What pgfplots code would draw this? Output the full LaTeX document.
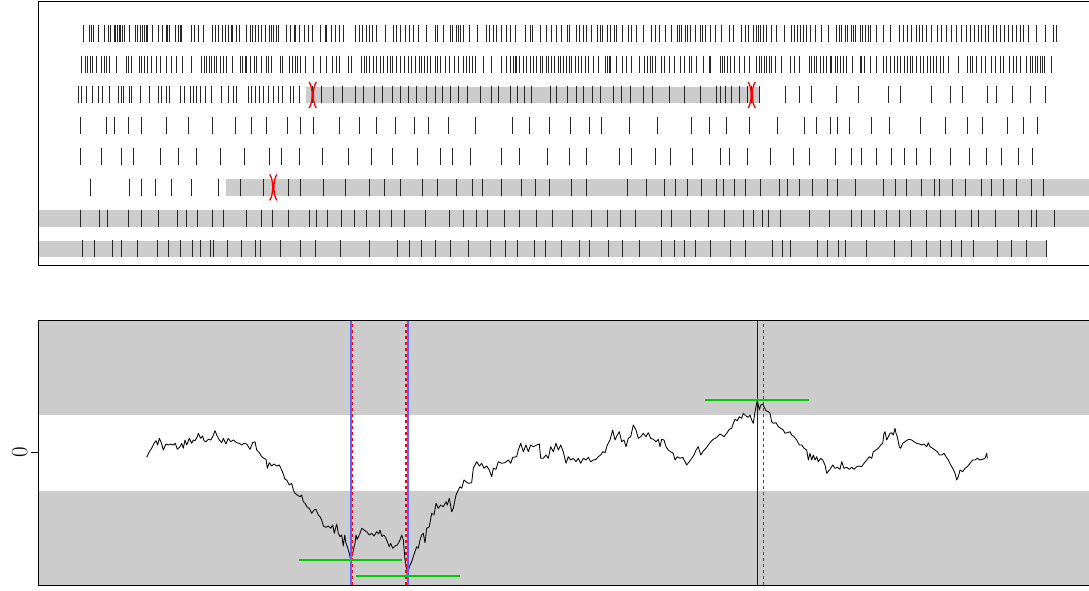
\documentclass[border=0pt]{standalone}
\usepackage{pgfplots}
\pgfplotsset{compat=1.18}

\definecolor{bandgray}{RGB}{204,204,204}
\definecolor{seggreen}{RGB}{0,205,0}
\definecolor{softblue}{RGB}{96,96,255}

% event marker: two facing arcs ")(" meeting at the centre
\pgfdeclareplotmark{hourglass}{%
  \pgfpathmoveto{\pgfqpoint{-0.28\pgfplotmarksize}{\pgfplotmarksize}}%
  \pgfpathcurveto{\pgfqpoint{0.03\pgfplotmarksize}{0.6\pgfplotmarksize}}%
                 {\pgfqpoint{0.03\pgfplotmarksize}{-0.6\pgfplotmarksize}}%
                 {\pgfqpoint{-0.28\pgfplotmarksize}{-\pgfplotmarksize}}%
  \pgfpathmoveto{\pgfqpoint{0.28\pgfplotmarksize}{\pgfplotmarksize}}%
  \pgfpathcurveto{\pgfqpoint{-0.03\pgfplotmarksize}{0.6\pgfplotmarksize}}%
                 {\pgfqpoint{-0.03\pgfplotmarksize}{-0.6\pgfplotmarksize}}%
                 {\pgfqpoint{0.28\pgfplotmarksize}{-\pgfplotmarksize}}%
  \pgfusepathqstroke
}

\pgfplotsset{
  spikes/.style={only marks, mark=|, mark size=8.5pt, black!85,
    mark options={line width=0.9pt}},
  band/.style={fill=bandgray, draw=none, forget plot},
  vline/.style={line width=2pt, softblue},
  vdash/.style={line width=1.2pt, red, dash pattern=on 3.5pt off 2.5pt},
}

\begin{document}
\begin{tikzpicture}
% ---------------- spike raster ----------------
\begin{axis}[
  at={(38pt,325pt)}, anchor=south west, scale only axis,
  width=1072pt, height=264pt,
  xmin=38, xmax=1110, ymin=-0.05, ymax=8.52, y dir=reverse,
  xtick=\empty, ytick=\empty,
  axis line style={line width=0.9pt, black},
  axis on top, clip=true,
]
% shaded intervals
\addplot[band] coordinates {(306,2.729) (760,2.729) (760,3.271) (306,3.271)} -- cycle;
\addplot[band] coordinates {(226,5.729) (1110,5.729) (1110,6.271) (226,6.271)} -- cycle;
\addplot[band] coordinates {(38,6.729) (1110,6.729) (1110,7.271) (38,7.271)} -- cycle;
\addplot[band] coordinates {(38,7.729) (1046,7.729) (1046,8.271) (38,8.271)} -- cycle;

% unit 1
\addplot[spikes] coordinates {
(83.3,1) (89.3,1) (91.3,1) (93.3,1) (98,1) (104.7,1) (108,1) (110,1) (114,1) (115.7,1)
(117.3,1) (119,1) (120.3,1) (122.3,1) (124.3,1) (129.3,1) (135,1) (137.7,1) (140,1) (142.3,1)
(144,1) (146.3,1) (147.7,1) (152.7,1) (158.3,1) (162,1) (166,1) (167.7,1) (169,1) (175,1)
(178.3,1) (180.3,1) (181.7,1) (191,1) (194.7,1) (198.3,1) (203.3,1) (212,1) (215.7,1) (218.3,1)
(222,1) (225.3,1) (228,1) (231,1) (232.3,1) (236,1) (239.3,1) (246.3,1) (250,1) (252,1)
(255.7,1) (258.7,1) (261.7,1) (265.7,1) (269.3,1) (271.7,1) (273.7,1) (276.7,1) (278.7,1) (286.7,1)
(290.3,1) (294,1) (295.7,1) (299.3,1) (304.3,1) (308.3,1) (312.7,1) (320,1) (325,1) (326.7,1)
(331.3,1) (335,1) (339.3,1) (343.3,1) (355,1) (359,1) (362.7,1) (366,1) (369.3,1) (372.7,1)
(376.7,1) (385,1) (393.3,1) (396.7,1) (400,1) (405,1) (409,1) (413.3,1) (418.3,1) (426.7,1)
(435,1) (437.3,1) (443.3,1) (450,1) (452.7,1) (456,1) (458.7,1) (460.7,1) (463.3,1) (469.3,1)
(477.7,1) (486.7,1) (489.3,1) (493.3,1) (496.7,1) (501.7,1) (506,1) (510,1) (515,1) (525,1)
(530,1) (532.3,1) (540,1) (546.7,1) (551,1) (556.7,1) (561,1) (567.3,1) (569.3,1) (576,1)
(579.3,1) (583.3,1) (586,1) (591.7,1) (597.3,1) (600,1) (602.7,1) (607.3,1) (610.7,1) (614,1)
(616.7,1) (622.7,1) (628.3,1) (631.7,1) (636,1) (643.3,1) (651,1) (655,1) (659,1) (665,1)
(671.7,1) (677.3,1) (679.3,1) (681.7,1) (685,1) (687.3,1) (690,1) (695,1) (700,1) (702.7,1)
(705,1) (710,1) (715,1) (721.7,1) (729.3,1) (733.3,1) (741.7,1) (745,1) (748.3,1) (753.3,1)
(756.7,1) (758.3,1) (760.7,1) (763.3,1) (766.7,1) (771.7,1) (776.7,1) (784,1) (791.7,1) (794.3,1)
(797.3,1) (800.7,1) (803.3,1) (806.7,1) (810,1) (815,1) (821.7,1) (828.3,1) (836.7,1) (839.3,1)
(841.7,1) (845,1) (847.7,1) (851,1) (853.3,1) (855.7,1) (860,1) (862.3,1) (865,1) (868.3,1)
(870.7,1) (876,1) (883.3,1) (890,1) (899.3,1) (903.3,1) (907.7,1) (911.7,1) (916,1) (919,1)
(922.7,1) (926.7,1) (931.7,1) (937.3,1) (941.7,1) (946.7,1) (951.7,1) (956.7,1) (961.7,1) (966.7,1)
(970.7,1) (974.3,1) (978.3,1) (981.7,1) (985,1) (988.3,1) (993,1) (996.7,1) (1000,1) (1004,1)
(1008,1) (1012,1) (1016,1) (1020,1) (1023,1) (1028,1) (1036.7,1) (1045,1) (1053.3,1) (1056,1)
};
% unit 2
\addplot[spikes] coordinates {
(81.7,2) (85,2) (87.3,2) (90,2) (92.7,2) (96.7,2) (101.7,2) (104,2) (106.7,2) (109.3,2)
(116.7,2) (126,2) (128.3,2) (131.7,2) (139,2) (141.7,2) (144,2) (147.3,2) (151.7,2) (156,2)
(160.7,2) (166.7,2) (171.7,2) (176.7,2) (182.7,2) (191.7,2) (201.7,2) (204,2) (206.7,2) (209.3,2)
(211.7,2) (214.3,2) (216.7,2) (220,2) (223.3,2) (226.7,2) (232.7,2) (240,2) (242.7,2) (245,2)
(246.7,2) (250,2) (254,2) (256.7,2) (261.7,2) (266,2) (268.3,2) (271,2) (280,2) (282,2)
(289.3,2) (292.7,2) (295,2) (297.7,2) (300.7,2) (305.3,2) (313.3,2) (320,2) (326.7,2) (332.7,2)
(336,2) (339.3,2) (348.3,2) (351.7,2) (361.7,2) (364,2) (366,2) (369.3,2) (373.3,2) (376.7,2)
(380,2) (383.3,2) (387.3,2) (390,2) (392.7,2) (396.7,2) (400.7,2) (404,2) (408.3,2) (411.7,2)
(415,2) (419.3,2) (421.7,2) (424.3,2) (427.3,2) (430.7,2) (435,2) (437.3,2) (440,2) (445,2)
(449.3,2) (454,2) (458.3,2) (463.3,2) (466.7,2) (469.3,2) (472.7,2) (475,2) (483.3,2) (491.7,2)
(501.7,2) (506.7,2) (510,2) (513.3,2) (515,2) (516.7,2) (519.3,2) (523.3,2) (526.7,2) (530.7,2)
(533.3,2) (536.7,2) (540.7,2) (542.7,2) (546,2) (548.3,2) (551.7,2) (554,2) (558.3,2) (560.7,2)
(563.3,2) (566.7,2) (569.3,2) (571.7,2) (575,2) (578.3,2) (581.7,2) (585,2) (588.3,2) (593.3,2)
(598.3,2) (605,2) (607.3,2) (609.3,2) (610.7,2) (616.7,2) (622.3,2) (626,2) (631.7,2) (639.3,2)
(644,2) (647.3,2) (650,2) (652.7,2) (655.7,2) (661,2) (664,2) (669,2) (674,2) (680.7,2)
(684,2) (689.3,2) (691.7,2) (696.7,2) (703.3,2) (709,2) (710.7,2) (720.7,2) (722.7,2) (724,2)
(727.3,2) (730.7,2) (734,2) (739,2) (744,2) (749.3,2) (756,2) (759,2) (761.7,2) (764,2)
(766.7,2) (769,2) (771.7,2) (775,2) (781.7,2) (790,2) (794,2) (799.3,2) (809,2) (811,2)
(814,2) (816.7,2) (820,2) (823.3,2) (826.7,2) (830,2) (831.7,2) (835.7,2) (837.3,2) (840.7,2)
(843.3,2) (846.7,2) (852.7,2) (860,2) (861.7,2) (864,2) (870,2) (876,2) (883.3,2) (886.7,2)
(890.7,2) (894.3,2) (897.3,2) (900,2) (904,2) (907.3,2) (910,2) (912.7,2) (916.7,2) (920,2)
(923.3,2) (927.3,2) (930,2) (933.3,2) (936.7,2) (940,2) (943.3,2) (948.3,2) (958.3,2) (967.3,2)
(970,2) (972.7,2) (976,2) (981.7,2) (985,2) (991.7,2) (995,2) (1000,2) (1003.3,2) (1009.3,2)
(1013.3,2) (1016.7,2) (1020,2) (1026.7,2) (1030,2) (1032.7,2) (1035,2) (1037.3,2) (1040,2) (1042.7,2)
(1044,2) (1051.7,2)
};
% unit 3
\addplot[spikes] coordinates {
(78.3,3) (81.7,3) (86.7,3) (92.7,3) (98.3,3) (102.7,3) (109,3) (118.3,3) (121.7,3) (123.3,3)
(129.3,3) (131.7,3) (140,3) (149,3) (158.3,3) (161.7,3) (166,3) (169.3,3) (180,3) (184.3,3)
(190,3) (193.3,3) (196.7,3) (200,3) (205,3) (211.7,3) (221.7,3) (228.3,3) (233.3,3) (236.7,3)
(248.3,3) (251.7,3) (255,3) (259.3,3) (263.3,3) (268.3,3) (273.3,3) (278.3,3) (282.7,3) (290,3)
(293.3,3) (299.3,3) (312.7,3) (321.7,3) (333.3,3) (342.7,3) (355,3) (363.3,3) (374.3,3) (382.7,3)
(392.7,3) (400.7,3) (408.3,3) (416.5,3) (426,3) (435,3) (442.7,3) (450.7,3) (458.3,3) (467,3)
(480,3) (491.7,3) (498,3) (510,3) (517,3) (524,3) (531.7,3) (550.7,3) (556.3,3) (567,3)
(576,3) (583.3,3) (592,3) (600,3) (613.3,3) (621.7,3) (630,3) (643,3) (652.7,3) (669,3)
(684.3,3) (700,3) (716,3) (720.3,3) (725.5,3) (731.7,3) (739.3,3) (747.3,3) (751.7,3) (759.3,3)
(785.7,3) (799,3) (811.7,3) (836,3) (858.3,3) (888.3,3) (900,3) (931,3) (950.7,3) (962.7,3)
(987.3,3) (996.7,3) (1012.7,3) (1030.7,3) (1045,3)
};
% unit 4
\addplot[spikes] coordinates {
(80.7,4) (106.7,4) (114.3,4) (128.3,4) (141.7,4) (166,4) (188.3,4) (212.3,4) (235,4) (251.7,4)
(266,4) (287.3,4) (300,4) (313.3,4) (339.3,4) (359,4) (376,4) (395.7,4) (414.3,4) (428.3,4)
(448.3,4) (475.7,4) (512.7,4) (529.3,4) (549,4) (570.7,4) (589,4) (601.7,4) (629.3,4) (657.7,4)
(691,4) (709.3,4) (726,4) (749,4) (777.7,4) (804,4) (816.7,4) (830,4) (837.7,4) (849.3,4)
(871.7,4) (889.3,4) (920.7,4) (945.7,4) (967.3,4) (982.7,4) (1007.3,4) (1023.3,4) (1037.3,4)
};
% unit 5
\addplot[spikes] coordinates {
(80.7,5) (101.7,5) (121.7,5) (133.3,5) (160,5) (178.3,5) (196,5) (220,5) (244.3,5) (269,5)
(281.7,5) (299,5) (322.7,5) (348.3,5) (371.7,5) (392.7,5) (417.3,5) (440.7,5) (452.3,5) (470.7,5)
(501.7,5) (519.3,5) (547.3,5) (569.3,5) (586.7,5) (619.3,5) (631.7,5) (655,5) (670.7,5) (692.3,5)
(720,5) (729,5) (747.7,5) (770,5) (793.3,5) (809,5) (835,5) (851.7,5) (861.7,5) (876.7,5)
(891.7,5) (904,5) (916.7,5) (930.7,5) (950.7,5) (969,5) (986.7,5) (1001.7,5) (1018.3,5) (1032.7,5)
};
% unit 6
\addplot[spikes] coordinates {
(90.7,6) (129.3,6) (141,6) (155.7,6) (171.7,6) (191,6) (218.3,6) (240,6) (263.3,6) (288.3,6)
(300.7,6) (323.3,6) (345.7,6) (369.3,6) (384,6) (400,6) (422.3,6) (437.7,6) (456,6) (472.3,6)
(482.7,6) (501.7,6) (521.7,6) (535.7,6) (549.3,6) (571.7,6) (586,6) (627.7,6) (646.7,6) (664.3,6)
(675,6) (687.3,6) (701.7,6) (716,6) (723.3,6) (734.3,6) (745,6) (760,6) (779,6) (787.3,6)
(799.3,6) (812.7,6) (827.7,6) (837.7,6) (855,6) (883.3,6) (895,6) (906.7,6) (921.7,6) (934,6)
(939.3,6) (952.7,6) (965,6) (981.7,6) (991.7,6) (1003.3,6) (1016.7,6) (1031.7,6) (1043.3,6)
};
% unit 7
\addplot[spikes] coordinates {
(80,7) (99,7) (107.3,7) (128.3,7) (141.7,7) (158.3,7) (177.3,7) (186.7,7) (197.7,7) (212.7,7)
(223.3,7) (246,7) (261.7,7) (272.7,7) (288.3,7) (309,7) (316.7,7) (327.7,7) (341.7,7) (354,7)
(366.7,7) (379,7) (391.7,7) (404,7) (425,7) (449,7) (463.3,7) (476.7,7) (487.7,7) (504,7)
(519.3,7) (536.7,7) (552.7,7) (572.3,7) (591,7) (607.3,7) (620.7,7) (635.7,7) (661,7) (671.7,7)
(690.7,7) (708.3,7) (724,7) (743.3,7) (753.3,7) (762.7,7) (768.3,7) (780.7,7) (809.3,7) (829.3,7)
(851.7,7) (861.7,7) (874,7) (886.7,7) (899,7) (910,7) (926.7,7) (940.7,7) (955,7) (971.7,7)
(978.3,7) (995.7,7) (1018.3,7) (1031.7,7) (1036.7,7) (1054,7)
};
% unit 8
\addplot[spikes] coordinates {
(82.7,8) (94.3,8) (112.7,8) (121.7,8) (137.7,8) (157.3,8) (168.3,8) (180.7,8) (192.7,8) (200.7,8)
(210,8) (213.5,8) (227.7,8) (241.7,8) (255,8) (260.7,8) (280.7,8) (300,8) (315.7,8) (340.7,8)
(369,8) (397.7,8) (409.3,8) (421.7,8) (435,8) (450.7,8) (468.3,8) (490,8) (505.7,8) (517.7,8)
(534,8) (545,8) (561.7,8) (579.3,8) (589.3,8) (608.3,8) (622.3,8) (639.3,8) (661.7,8) (674.3,8)
(684,8) (695.7,8) (710,8) (730,8) (745.7,8) (772.7,8) (782.3,8) (790.7,8) (817.7,8) (827.7,8)
(838.3,8) (845,8) (866.7,8) (894,8) (911.7,8) (926,8) (940.7,8) (951.7,8) (961.7,8) (973.3,8)
(997.7,8) (1011.7,8) (1026,8) (1046,8)
};
% marked events
\addplot[only marks, mark=hourglass, mark size=13pt, red,
  mark options={line width=1.3pt}] coordinates {(312.7,3) (751.7,3) (273.3,6)};
\end{axis}

% ---------------- trace ----------------
\begin{axis}[
  at={(38pt,5pt)}, anchor=south west, scale only axis,
  width=1072pt, height=265pt,
  xmin=38, xmax=1110, ymin=-132.5, ymax=132.5,
  xtick=\empty, ytick={0}, yticklabels={0}, ytick pos=left,
  tick align=outside, major tick length=7pt,
  tick style={line width=0.9pt, black},
  yticklabel style={rotate=90, anchor=south, font=\fontsize{23}{27}\selectfont},
  axis line style={line width=0.9pt, black},
  axis on top, clip=true,
]
\addplot[band] coordinates {(38,38) (1110,38) (1110,132.5) (38,132.5)} -- cycle;
\addplot[band] coordinates {(38,-38) (1110,-38) (1110,-132.5) (38,-132.5)} -- cycle;

\addplot[black, line width=0.85pt, line join=round] coordinates {
(146.7,-4.8) (149.3,0.8) (151.7,4.2) (154,9.2) (156,11.8) (157.7,7.5) (159.3,14.2) (161.3,9.8)
(163.3,2.5) (166,8.5) (168.3,7.5) (170.7,8.5) (173.3,7.5) (175.3,9.2) (177.3,3.2) (180,5.8)
(181.7,9.2) (183.3,4.2) (185,12.5) (186.7,7.5) (189.3,14.2) (191.7,9.2) (193.3,12.5) (195,11.8)
(197.3,15.8) (198.3,19.2) (200.7,14.2) (202.7,16.5) (204,11.8) (206,10.8) (208.3,13.2) (210.7,12.5)
(212.7,15.8) (215,21.8) (216.7,17.5) (219.3,12.5) (221.7,9.8) (223.3,14.2) (226,8.5) (228.3,14.2)
(230.7,10.8) (233.3,12.5) (236.7,9.8) (239.3,9.2) (241.7,7.5) (244,9.2) (246.7,8.5) (250,3.2)
(252.7,9.8) (255,10.8) (256.7,2.5) (259.3,-0.2) (261.7,-4.2) (264,-5.8) (266,-6.8) (267.3,-15.8)
(269.3,-10.2) (271.7,-13.5) (274,-11.5) (276.7,-13.5) (279.3,-12.5) (281.7,-17.5) (283.3,-21.5) (285,-26.8)
(286.7,-27.5) (289.3,-32.5) (291.7,-30.8) (293.3,-37.5) (295,-40.8) (297.3,-42.5) (300,-44.2) (301.7,-42.5)
(303.3,-49.2) (305,-50.8) (307.3,-54.8) (309.3,-55.8) (311.7,-60.8) (314,-57.5) (316,-56.8) (318.3,-62.5)
(320,-64.2) (321.7,-67.5) (323.3,-73.5) (326,-74.8) (328.3,-73.5) (330.7,-75.8) (332.7,-72.5) (334.3,-80.8)
(336.7,-71.5) (338.3,-80.8) (340,-84.2) (341.7,-82.5) (343.3,-93.5) (344.7,-82.5) (346,-90.8) (347.3,-94.2)
(349.3,-100.8) (350.7,-107.5) (352.7,-100.8) (355,-90.8) (356,-82.5) (357.3,-86.8) (360,-80.8) (361.7,-75.8)
(364,-77.5) (366.7,-79.2) (369.3,-82.5) (371.7,-80.8) (374,-83.5) (376.7,-79.2) (378.7,-81.5) (380,-77.5)
(382,-84.2) (384,-82.5) (386,-85.8) (387.3,-89.2) (389.3,-94.2) (390.7,-90.8) (392.7,-95.8) (395,-93.5)
(397.3,-92.5) (400,-87.5) (401.7,-82.5) (403.3,-87.5) (405,-107.5) (406.7,-117.5) (407.3,-123.5) (409.3,-114.2)
(411.7,-109.2) (413.3,-104.2) (415,-99.2) (416.7,-94.2) (418.3,-95.8) (420,-87.5) (421.7,-82.5) (423.3,-80.8)
(425,-90.2) (426.7,-75.8) (429.3,-74.2) (431.7,-60.8) (434,-62.5) (436,-50.8) (438.3,-55.8) (440.7,-52.5)
(443.3,-54.2) (446,-49.2) (447.3,-52.5) (449.3,-45.8) (451.7,-59.2) (453.3,-55.8) (456,-42.5) (458.3,-37.5)
(460,-34.2) (461.7,-35.8) (464,-27.5) (466,-29.2) (468.3,-30.8) (471.7,-30.2) (473.3,-15.8) (476.7,-9.2)
(479.3,-13.5) (481.7,-10.8) (484,-15.8) (486.7,-13.5) (489.3,-17.5) (491.7,-24.2) (493.3,-15.8) (496,-16.8)
(498.3,-9.2) (501.7,-10.8) (505,-10.2) (508.3,-7.5) (510.7,-10.8) (512.7,-4.8) (516.7,-4.2) (518.3,2.5)
(520.7,9.2) (523.3,0.8) (526,7.5) (528.3,0.8) (530.7,7.5) (533.3,5.8) (536.7,7.5) (539.3,8.5)
(540.7,-5.8) (543.3,-5.8) (546,-2.5) (548.3,-5.8) (550.7,5.8) (553.3,0.8) (556,9.2) (558.3,2.5)
(560.7,7.5) (563.3,0.8) (566,-10.8) (568.3,-4.2) (570.7,-7.5) (573.3,-5.8) (576,-9.2) (578.3,-5.8)
(580.7,-10.8) (583.3,-5.8) (586,-7.5) (588.3,-4.8) (590.7,-9.2) (593.3,-7.5) (596,-6.8) (598.3,-4.2)
(600.7,-2.5) (602.7,0.8) (605,-0.2) (607.3,7.5) (610,12.5) (612.7,22.5) (615,12.5) (617.3,17.5)
(619.3,20.8) (621.7,10.8) (624,12.5) (626,5.8) (628.3,14.2) (630.7,15.8) (633.3,27.5) (636,22.5)
(638.3,14.2) (640.7,15.8) (643.3,19.2) (646,15.8) (648.3,19.8) (650.7,14.2) (653.3,13.2) (656,10.8)
(658.3,13.2) (660,5.8) (661.7,13.2) (664,12.5) (666,5.8) (668.3,2.5) (670.7,0.8) (673.3,-0.8)
(675,-7.5) (677.3,-4.2) (680,-5.8) (682.7,-4.8) (685,-9.2) (686.7,-12.5) (689.3,-9.2) (691.7,-5.8)
(694,-2.5) (696,2.5) (698.3,5.8) (700.7,-2.5) (703.3,1.5) (706,4.2) (708.3,7.5) (710.7,10.8)
(713.3,13.2) (716.7,15.2) (720,18.5) (721.7,17.5) (724,15.8) (726.7,19.2) (729.3,23.2) (731.7,24.2)
(733.3,29.2) (735,33.2) (737.3,31.8) (739.3,35.8) (741.7,34.2) (743.3,39.2) (746,36.5) (748.3,35.2)
(750,37.5) (751.7,32.5) (753.3,29.2) (755,40.8) (756.7,49.2) (757.3,52.5) (759.3,42.5) (760.7,47.5)
(762.7,48.5) (764,45.8) (766,41.8) (768.3,40.8) (770,39.2) (771.7,30.8) (773.3,29.2) (776,29.8)
(778.3,25.8) (780.7,24.2) (783.3,22.5) (785,19.2) (787.3,19.8) (790,20.8) (791.7,17.5) (794,15.8)
(796.7,12.5) (799.3,7.5) (801.7,7.5) (804,4.2) (806.7,2.5) (808.3,-7.5) (810,-0.8) (811.7,-7.5)
(813.3,-2.5) (815,-7.5) (816.7,-4.2) (818.3,-9.2) (820.7,-5.8) (822.7,-7.5) (825,-12.5) (826.7,-20.8)
(830,-16.8) (832.7,-12.5) (835,-15.8) (837.3,-14.8) (840,-16.8) (841.7,-9.2) (844,-15.8) (846.7,-14.8)
(849.3,-16.8) (851.7,-14.8) (854,-16.8) (856.7,-14.2) (859.3,-13.5) (861.7,-14.2) (864,-10.8) (866.7,-7.5)
(869.3,-4.2) (871.7,-5.8) (873.3,0.8) (876,2.5) (878.3,4.2) (880.7,7.5) (882.7,9.2) (884,19.2)
(885,20.8) (886.7,12.5) (888.3,15.8) (890,19.2) (891.7,19.8) (893.3,17.5) (895,24.2) (896,19.2)
(897.3,15.8) (899.3,5.8) (900.7,4.2) (902.7,9.2) (905,10.8) (907.3,12.5) (909.3,13.2) (911.7,12.5)
(914,10.8) (916.7,9.2) (919.3,8.5) (921.7,7.5) (924,8.5) (926.7,5.8) (928.3,9.8) (930,5.8)
(932.7,4.2) (935,2.5) (937.3,0.8) (939.3,-2.5) (941.7,-2.5) (944,-0.8) (946,-4.2) (948.3,-7.5)
(950.7,-12.5) (952.7,-15.8) (955,-20.8) (956.7,-27.5) (958.3,-24.2) (960,-17.5) (962.7,-19.2) (965,-15.8)
(967.3,-14.2) (970,-10.8) (972.7,-7.5) (975,-7.5) (977.3,-5.8) (980,-7.5) (982.7,-6.8) (985,-5.8)
(986.7,-0.8) (987.3,-5.8)
};

% detected extrema: solid markers and dashed references
\addplot[vline] coordinates {(350.7,-132.5) (350.7,132.5)};
\addplot[vdash] coordinates {(352.2,-132.5) (352.2,132.5)};
\addplot[vdash] coordinates {(406,-132.5) (406,132.5)};
\addplot[vline] coordinates {(407.8,-132.5) (407.8,132.5)};
\addplot[blue, line width=1.5pt] coordinates {(757.3,-132.5) (757.3,132.5)};
\addplot[vdash, line width=1pt] coordinates {(763.3,-132.5) (763.3,132.5)};

% extremum levels
\addplot[seggreen, line width=1.4pt] coordinates {(299,-107.5) (402,-107.5)};
\addplot[seggreen, line width=1.4pt] coordinates {(356,-123.5) (460,-123.5)};
\addplot[seggreen, line width=1.4pt] coordinates {(705,52.5) (809,52.5)};
\end{axis}
\pgfresetboundingbox
\useasboundingbox (0,0) rectangle (1089pt,590pt);
\end{tikzpicture}
\end{document}
